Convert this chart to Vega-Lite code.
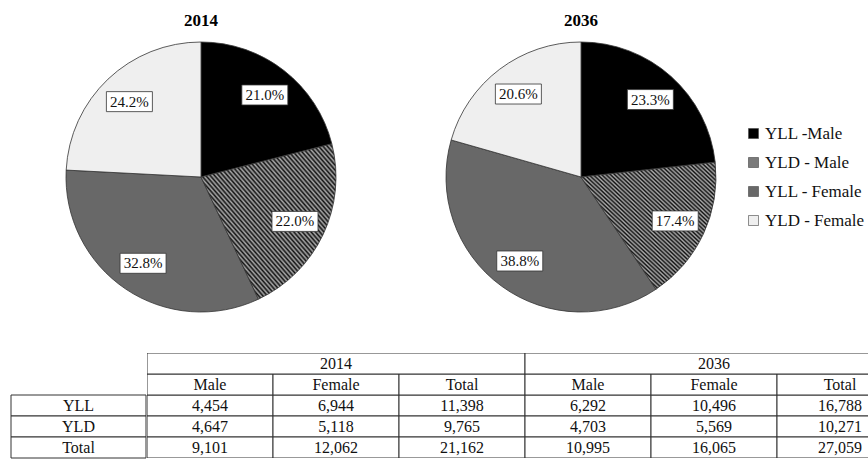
{
  "$schema": "https://vega.github.io/schema/vega-lite/v6.json",
  "background": "white",
  "padding": {"left": 10, "top": 12, "right": 0, "bottom": 0},
  "config": {
    "view": {"stroke": null},
    "font": "Liberation Serif",
    "text": {"font": "Liberation Serif"},
    "legend": {"labelFont": "Liberation Serif", "titleFont": "Liberation Serif"}
  },
  "data": {
    "values": [
      {"measure": "YLL", "year": "2014", "sex": "Male", "value": 4454},
      {"measure": "YLL", "year": "2014", "sex": "Female", "value": 6944},
      {"measure": "YLL", "year": "2014", "sex": "Total", "value": 11398},
      {"measure": "YLD", "year": "2014", "sex": "Male", "value": 4647},
      {"measure": "YLD", "year": "2014", "sex": "Female", "value": 5118},
      {"measure": "YLD", "year": "2014", "sex": "Total", "value": 9765},
      {"measure": "Total", "year": "2014", "sex": "Male", "value": 9101},
      {"measure": "Total", "year": "2014", "sex": "Female", "value": 12062},
      {"measure": "Total", "year": "2014", "sex": "Total", "value": 21162},
      {"measure": "YLL", "year": "2036", "sex": "Male", "value": 6292},
      {"measure": "YLL", "year": "2036", "sex": "Female", "value": 10496},
      {"measure": "YLL", "year": "2036", "sex": "Total", "value": 16788},
      {"measure": "YLD", "year": "2036", "sex": "Male", "value": 4703},
      {"measure": "YLD", "year": "2036", "sex": "Female", "value": 5569},
      {"measure": "YLD", "year": "2036", "sex": "Total", "value": 10271},
      {"measure": "Total", "year": "2036", "sex": "Male", "value": 10995},
      {"measure": "Total", "year": "2036", "sex": "Female", "value": 16065},
      {"measure": "Total", "year": "2036", "sex": "Total", "value": 27059}
    ]
  },
  "vconcat": [
    {
      "transform": [
        {"filter": "datum.measure !== 'Total' && datum.sex !== 'Total'"},
        {"calculate": "datum.measure + ' - ' + datum.sex", "as": "category"},
        {"calculate": "indexof(['YLL - Male', 'YLD - Male', 'YLL - Female', 'YLD - Female'], datum.category)", "as": "order"},
        {"joinaggregate": [{"op": "sum", "field": "value", "as": "total"}], "groupby": ["year"]},
        {"window": [{"op": "sum", "field": "value", "as": "cum"}], "groupby": ["year"], "sort": [{"field": "order"}], "frame": [null, 0]},
        {"calculate": "datum.value / datum.total", "as": "share"},
        {"calculate": "2 * PI * (datum.cum - datum.value / 2) / datum.total", "as": "mid"},
        {"calculate": "0.77 * sin(datum.mid)", "as": "lx"},
        {"calculate": "0.77 * cos(datum.mid)", "as": "ly"}
      ],
      "facet": {
        "column": {
          "field": "year",
          "type": "nominal",
          "title": null,
          "header": {
            "labelFont": "Liberation Serif",
            "labelFontSize": 17,
            "labelFontWeight": "bold",
            "labelColor": "black",
            "labelPadding": 10
          }
        }
      },
      "spacing": -4,
      "spec": {
        "width": 380,
        "height": 270,
        "layer": [
          {
            "mark": {"type": "arc", "stroke": "#333", "strokeWidth": 0.8},
            "encoding": {
              "theta": {"field": "value", "type": "quantitative", "stack": true},
              "order": {"field": "order", "type": "quantitative"},
              "color": {
                "condition": {
                  "test": "datum.category === 'YLD - Male'",
                  "value": {
                    "gradient": "linear",
                    "x1": 0, "y1": 1, "x2": 1, "y2": 0,
                    "stops": [
                      {"offset": 0, "color": "#111"}, {"offset": 0.008, "color": "#aaa"}, {"offset": 0.016, "color": "#111"}, {"offset": 0.024, "color": "#aaa"}, {"offset": 0.032, "color": "#111"}, {"offset": 0.04, "color": "#aaa"}, {"offset": 0.048, "color": "#111"}, {"offset": 0.056, "color": "#aaa"}, {"offset": 0.064, "color": "#111"}, {"offset": 0.072, "color": "#aaa"},
                      {"offset": 0.08, "color": "#111"}, {"offset": 0.088, "color": "#aaa"}, {"offset": 0.096, "color": "#111"}, {"offset": 0.104, "color": "#aaa"}, {"offset": 0.112, "color": "#111"}, {"offset": 0.12, "color": "#aaa"}, {"offset": 0.128, "color": "#111"}, {"offset": 0.136, "color": "#aaa"}, {"offset": 0.144, "color": "#111"}, {"offset": 0.152, "color": "#aaa"},
                      {"offset": 0.16, "color": "#111"}, {"offset": 0.168, "color": "#aaa"}, {"offset": 0.176, "color": "#111"}, {"offset": 0.184, "color": "#aaa"}, {"offset": 0.192, "color": "#111"}, {"offset": 0.2, "color": "#aaa"}, {"offset": 0.208, "color": "#111"}, {"offset": 0.216, "color": "#aaa"}, {"offset": 0.224, "color": "#111"}, {"offset": 0.232, "color": "#aaa"},
                      {"offset": 0.24, "color": "#111"}, {"offset": 0.248, "color": "#aaa"}, {"offset": 0.256, "color": "#111"}, {"offset": 0.264, "color": "#aaa"}, {"offset": 0.272, "color": "#111"}, {"offset": 0.28, "color": "#aaa"}, {"offset": 0.288, "color": "#111"}, {"offset": 0.296, "color": "#aaa"}, {"offset": 0.304, "color": "#111"}, {"offset": 0.312, "color": "#aaa"},
                      {"offset": 0.32, "color": "#111"}, {"offset": 0.328, "color": "#aaa"}, {"offset": 0.336, "color": "#111"}, {"offset": 0.344, "color": "#aaa"}, {"offset": 0.352, "color": "#111"}, {"offset": 0.36, "color": "#aaa"}, {"offset": 0.368, "color": "#111"}, {"offset": 0.376, "color": "#aaa"}, {"offset": 0.384, "color": "#111"}, {"offset": 0.392, "color": "#aaa"},
                      {"offset": 0.4, "color": "#111"}, {"offset": 0.408, "color": "#aaa"}, {"offset": 0.416, "color": "#111"}, {"offset": 0.424, "color": "#aaa"}, {"offset": 0.432, "color": "#111"}, {"offset": 0.44, "color": "#aaa"}, {"offset": 0.448, "color": "#111"}, {"offset": 0.456, "color": "#aaa"}, {"offset": 0.464, "color": "#111"}, {"offset": 0.472, "color": "#aaa"},
                      {"offset": 0.48, "color": "#111"}, {"offset": 0.488, "color": "#aaa"}, {"offset": 0.496, "color": "#111"}, {"offset": 0.504, "color": "#aaa"}, {"offset": 0.512, "color": "#111"}, {"offset": 0.52, "color": "#aaa"}, {"offset": 0.528, "color": "#111"}, {"offset": 0.536, "color": "#aaa"}, {"offset": 0.544, "color": "#111"}, {"offset": 0.552, "color": "#aaa"},
                      {"offset": 0.56, "color": "#111"}, {"offset": 0.568, "color": "#aaa"}, {"offset": 0.576, "color": "#111"}, {"offset": 0.584, "color": "#aaa"}, {"offset": 0.592, "color": "#111"}, {"offset": 0.6, "color": "#aaa"}, {"offset": 0.608, "color": "#111"}, {"offset": 0.616, "color": "#aaa"}, {"offset": 0.624, "color": "#111"}, {"offset": 0.632, "color": "#aaa"},
                      {"offset": 0.64, "color": "#111"}, {"offset": 0.648, "color": "#aaa"}, {"offset": 0.656, "color": "#111"}, {"offset": 0.664, "color": "#aaa"}, {"offset": 0.672, "color": "#111"}, {"offset": 0.68, "color": "#aaa"}, {"offset": 0.688, "color": "#111"}, {"offset": 0.696, "color": "#aaa"}, {"offset": 0.704, "color": "#111"}, {"offset": 0.712, "color": "#aaa"},
                      {"offset": 0.72, "color": "#111"}, {"offset": 0.728, "color": "#aaa"}, {"offset": 0.736, "color": "#111"}, {"offset": 0.744, "color": "#aaa"}, {"offset": 0.752, "color": "#111"}, {"offset": 0.76, "color": "#aaa"}, {"offset": 0.768, "color": "#111"}, {"offset": 0.776, "color": "#aaa"}, {"offset": 0.784, "color": "#111"}, {"offset": 0.792, "color": "#aaa"},
                      {"offset": 0.8, "color": "#111"}, {"offset": 0.808, "color": "#aaa"}, {"offset": 0.816, "color": "#111"}, {"offset": 0.824, "color": "#aaa"}, {"offset": 0.832, "color": "#111"}, {"offset": 0.84, "color": "#aaa"}, {"offset": 0.848, "color": "#111"}, {"offset": 0.856, "color": "#aaa"}, {"offset": 0.864, "color": "#111"}, {"offset": 0.872, "color": "#aaa"},
                      {"offset": 0.88, "color": "#111"}, {"offset": 0.888, "color": "#aaa"}, {"offset": 0.896, "color": "#111"}, {"offset": 0.904, "color": "#aaa"}, {"offset": 0.912, "color": "#111"}, {"offset": 0.92, "color": "#aaa"}, {"offset": 0.928, "color": "#111"}, {"offset": 0.936, "color": "#aaa"}, {"offset": 0.944, "color": "#111"}, {"offset": 0.952, "color": "#aaa"},
                      {"offset": 0.96, "color": "#111"}, {"offset": 0.968, "color": "#aaa"}, {"offset": 0.976, "color": "#111"}, {"offset": 0.984, "color": "#aaa"}, {"offset": 0.992, "color": "#111"}, {"offset": 1, "color": "#aaa"}
                    ]
                  }
                },
                "field": "category",
                "type": "nominal",
                "scale": {
                  "domain": ["YLL - Male", "YLD - Male", "YLL - Female", "YLD - Female"],
                  "range": ["#000000", "#7a7a7a", "#686868", "#efefef"]
                },
                "legend": {
                  "title": null,
                  "orient": "none",
                  "legendX": 734,
                  "legendY": 83,
                  "symbolType": "square",
                  "symbolSize": 100,
                  "symbolStrokeColor": "#444",
                  "symbolStrokeWidth": 0.6,
                  "labelFont": "Liberation Serif",
                  "labelFontSize": 17,
                  "labelColor": "#111",
                  "labelOffset": 3,
                  "rowPadding": 11,
                  "labelExpr": "datum.label === 'YLL - Male' ? 'YLL -Male' : datum.label",
                  "encode": {
                    "labels": {"update": {"font": {"value": "Liberation Serif"}}}
                  }
                }
              }
            }
          },
          {
            "mark": {"type": "rect", "fill": "white", "stroke": "#333", "strokeWidth": 0.8, "xOffset": -23, "x2Offset": 23, "yOffset": -10, "y2Offset": 10},
            "encoding": {
              "x": {"field": "lx", "type": "quantitative", "scale": {"domain": [-1.40741, 1.40741], "nice": false, "zero": false}, "axis": null},
              "x2": {"field": "lx"},
              "y": {"field": "ly", "type": "quantitative", "scale": {"domain": [-1, 1], "nice": false, "zero": false}, "axis": null},
              "y2": {"field": "ly"}
            }
          },
          {
            "mark": {"type": "text", "fontSize": 15, "color": "#111"},
            "encoding": {
              "x": {"field": "lx", "type": "quantitative"},
              "y": {"field": "ly", "type": "quantitative"},
              "text": {"field": "share", "type": "quantitative", "format": ".1%"}
            }
          }
        ]
      }
    },
    {
      "hconcat": [
        {
          "width": 135,
          "height": 105,
          "transform": [{"filter": "datum.year === '2014' && datum.sex === 'Male'"}],
          "layer": [
            {
              "mark": {"type": "rect", "fill": "white", "stroke": "#333", "strokeWidth": 1},
              "encoding": {
                "y": {"field": "measure", "type": "nominal", "scale": {"domain": ["h1", "h2", "YLL", "YLD", "Total"], "paddingInner": 0, "paddingOuter": 0}, "axis": null}
              }
            },
            {
              "mark": {"type": "text", "fontSize": 16, "color": "#111", "font": "Liberation Serif"},
              "encoding": {
                "y": {"field": "measure", "type": "nominal"},
                "text": {"field": "measure"}
              }
            }
          ]
        },
        {
          "width": 723,
          "height": 105,
          "encoding": {
            "x": {"field": "year", "type": "nominal", "scale": {"domain": ["2014", "2036"], "range": [0, 756], "paddingInner": 0, "paddingOuter": 0}, "axis": null}
          },
          "layer": [
            {
              "mark": {"type": "rect", "fill": "white", "stroke": "#333", "strokeWidth": 1, "clip": true},
              "encoding": {
                "xOffset": {"field": "sex", "type": "nominal", "scale": {"domain": ["Male", "Female", "Total"], "paddingInner": 0, "paddingOuter": 0}},
                "y": {"field": "measure", "type": "nominal", "scale": {"domain": ["h1", "h2", "YLL", "YLD", "Total"], "paddingInner": 0, "paddingOuter": 0}, "axis": null}
              }
            },
            {
              "mark": {"type": "text", "fontSize": 16, "color": "#111", "clip": true},
              "encoding": {
                "xOffset": {"field": "sex", "type": "nominal"},
                "y": {"field": "measure", "type": "nominal"},
                "text": {"field": "value", "type": "quantitative", "format": ",d"}
              }
            },
            {
              "transform": [{"aggregate": [{"op": "count", "as": "n"}], "groupby": ["year", "sex"]}],
              "mark": {"type": "rect", "fill": "white", "stroke": "#333", "strokeWidth": 1, "clip": true},
              "encoding": {
                "xOffset": {"field": "sex", "type": "nominal"},
                "y": {"datum": "h2", "type": "nominal"}
              }
            },
            {
              "transform": [{"aggregate": [{"op": "count", "as": "n"}], "groupby": ["year", "sex"]}],
              "mark": {"type": "text", "fontSize": 16, "color": "#111", "clip": true},
              "encoding": {
                "xOffset": {"field": "sex", "type": "nominal"},
                "y": {"datum": "h2", "type": "nominal"},
                "text": {"field": "sex"}
              }
            },
            {
              "transform": [{"aggregate": [{"op": "count", "as": "n"}], "groupby": ["year"]}],
              "mark": {"type": "rect", "fill": "white", "stroke": "#333", "strokeWidth": 1, "clip": true},
              "encoding": {
                "y": {"datum": "h1", "type": "nominal"}
              }
            },
            {
              "transform": [{"aggregate": [{"op": "count", "as": "n"}], "groupby": ["year"]}],
              "mark": {"type": "text", "fontSize": 16, "color": "#111", "clip": true},
              "encoding": {
                "y": {"datum": "h1", "type": "nominal"},
                "text": {"field": "year"}
              }
            }
          ]
        }
      ],
      "spacing": 0
    }
  ],
  "spacing": 39
}
